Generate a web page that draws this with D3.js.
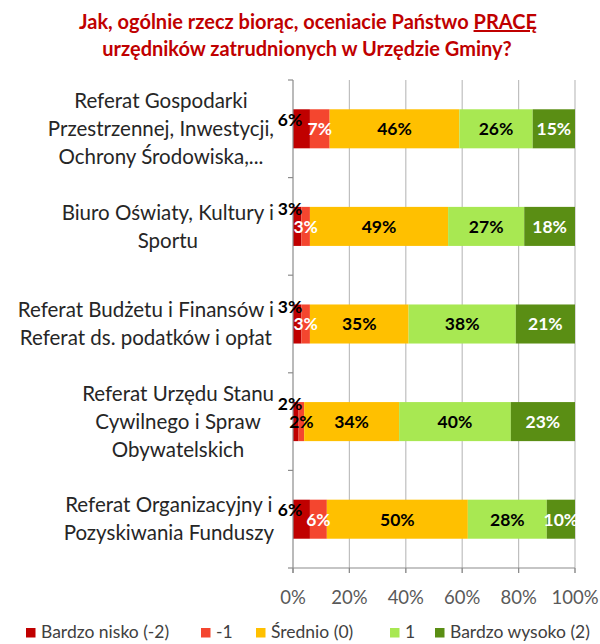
<!DOCTYPE html>
<html><head><meta charset="utf-8">
<script src="https://cdn.jsdelivr.net/npm/d3@7"></script>
<style>body{margin:0;background:#fff}svg{display:block}</style>
</head><body>
<svg id="c" width="600" height="644"></svg>
<script>
const categories = [
  ["Referat Gospodarki","Przestrzennej, Inwestycji,","Ochrony Środowiska,..."],
  ["Biuro Oświaty, Kultury i","Sportu"],
  ["Referat Budżetu i Finansów i","Referat ds. podatków i opłat"],
  ["Referat Urzędu Stanu","Cywilnego i Spraw","Obywatelskich"],
  ["Referat Organizacyjny i","Pozyskiwania Funduszy"]
];
const seriesNames = ["Bardzo nisko (-2)","-1","Średnio (0)","1","Bardzo wysoko (2)"];
const bardzoNisko = [6,3,3,2,6];
const minusJeden  = [7,3,3,2,6];
const srednio     = [46,49,35,34,50];
const jeden       = [26,27,38,40,28];
const bardzoWysoko= [15,18,21,23,10];
const tickLabels = ["0%","20%","40%","60%","80%","100%"];
const colors = ["#C00000","#F4462F","#FFC000","#A8E852","#5A8E14"];
const labelColors = ["#000","#fff","#000","#000","#fff"];

(function(){
const seriesVals = [bardzoNisko, minusJeden, srednio, jeden, bardzoWysoko];
const rows = categories.map((c,i)=>{
  const o = {id:i};
  seriesNames.forEach((s,k)=>o[s]=seriesVals[k][i]);
  return o;
});

const svg = d3.select("#c");
const FONT = "Lato, 'Open Sans', sans-serif";
const pL = 293, pR = 575, pT = 80, pB = 568;

const x = d3.scaleLinear().domain([0,1]).range([pL,pR]);
const y = d3.scaleBand().domain(d3.range(categories.length)).range([pT,pB]).paddingInner(0.6).paddingOuter(0.3);

// title
const title = svg.append("text").attr("text-anchor","middle").attr("font-family",FONT)
  .attr("font-weight","bold").attr("font-size",20).attr("fill","#C00000");
const t1 = title.append("tspan").attr("x",308).attr("y",29);
t1.append("tspan").text("Jak, ogólnie rzecz biorąc, oceniacie Państwo ");
t1.append("tspan").attr("text-decoration","underline").text("PRACĘ");
title.append("tspan").attr("x",307).attr("y",56).text("urzędników zatrudnionych w Urzędzie Gminy?");

// gridlines
const ticks = [0,0.2,0.4,0.6,0.8,1];
svg.append("g").selectAll("line").data(ticks.slice(1)).join("line")
  .attr("x1",d=>x(d)).attr("x2",d=>x(d)).attr("y1",pT).attr("y2",pB+5)
  .attr("stroke","#BFBFBF").attr("stroke-width",1.2);

// bars
const stack = d3.stack().keys(seriesNames).offset(d3.stackOffsetExpand);
const stacked = stack(rows);
const g = svg.append("g");
stacked.forEach((layer,k)=>{
  g.selectAll(null).data(layer).join("rect")
    .attr("x",d=>x(d[0])).attr("width",d=>x(d[1])-x(d[0]))
    .attr("y",(d,i)=>y(i)).attr("height",y.bandwidth())
    .attr("fill",colors[k]);
});

// axes
const ax = svg.append("g").attr("stroke","#8C8C8C").attr("stroke-width",1.2);
ax.append("line").attr("x1",pL).attr("x2",pL).attr("y1",pT).attr("y2",pB+5);
ax.append("line").attr("x1",pL).attr("x2",pR).attr("y1",pB).attr("y2",pB);
const bounds = d3.range(categories.length+1).map(i=>pT + i*y.step());
ax.selectAll(null).data(bounds).join("line")
  .attr("x1",pL-5).attr("x2",pL).attr("y1",d=>d).attr("y2",d=>d);
ax.selectAll(null).data(ticks).join("line")
  .attr("x1",d=>x(d)).attr("x2",d=>x(d)).attr("y1",pB).attr("y2",pB+5);

svg.append("g").selectAll("text").data(ticks).join("text")
  .attr("x",d=>x(d)).attr("y",pB+36).attr("text-anchor","middle")
  .attr("font-family",FONT).attr("font-size",18.5).attr("fill","#595959")
  .text((d,i)=>tickLabels[i]);

// data labels
stacked.forEach((layer,k)=>{
  layer.forEach((d,i)=>{
    const v = seriesVals[k][i];
    const frac = d[1]-d[0];
    let cx = (x(d[0])+x(d[1]))/2, cy = y(i)+y.bandwidth()/2, fill = labelColors[k];
    if(k===0){ cx = x(0)-3; cy = y(i) + (frac>=0.05?10:2); fill="#000"; }
    else if(frac<0.025){ fill="#000"; }
    svg.append("text").attr("x",cx).attr("y",cy).attr("dy","0.36em")
      .attr("text-anchor","middle").attr("font-family",FONT).attr("font-weight","bold")
      .attr("font-size",17.5).attr("fill",fill).text(v+"%");
  });
});

// category labels
const lblG = svg.append("g").attr("font-family",FONT).attr("font-size",20.5).attr("fill","#262626");
categories.forEach((lines,i)=>{
  const t = lblG.append("text").attr("text-anchor","middle");
  const cy = y(i)+y.bandwidth()/2;
  const lh = 28;
  const tsp = lines.map((l,j)=>t.append("tspan").attr("y",cy+(j-(lines.length-1)/2)*lh).attr("dy","0.35em").text(l));
  const maxW = d3.max(tsp,s=>s.node().getComputedTextLength());
  const cx = 274 - maxW/2;
  tsp.forEach(s=>s.attr("x",cx));
});

// legend
const legX = [26,201,256,390,435];
const lg = svg.append("g").attr("font-family",FONT).attr("font-size",17.5).attr("fill","#404040");
seriesNames.forEach((s,k)=>{
  lg.append("rect").attr("x",legX[k]).attr("y",628).attr("width",9.5).attr("height",9.5).attr("fill",colors[k]);
  lg.append("text").attr("x",legX[k]+15).attr("y",638).text(s);
});
})();
</script>
</body></html>
